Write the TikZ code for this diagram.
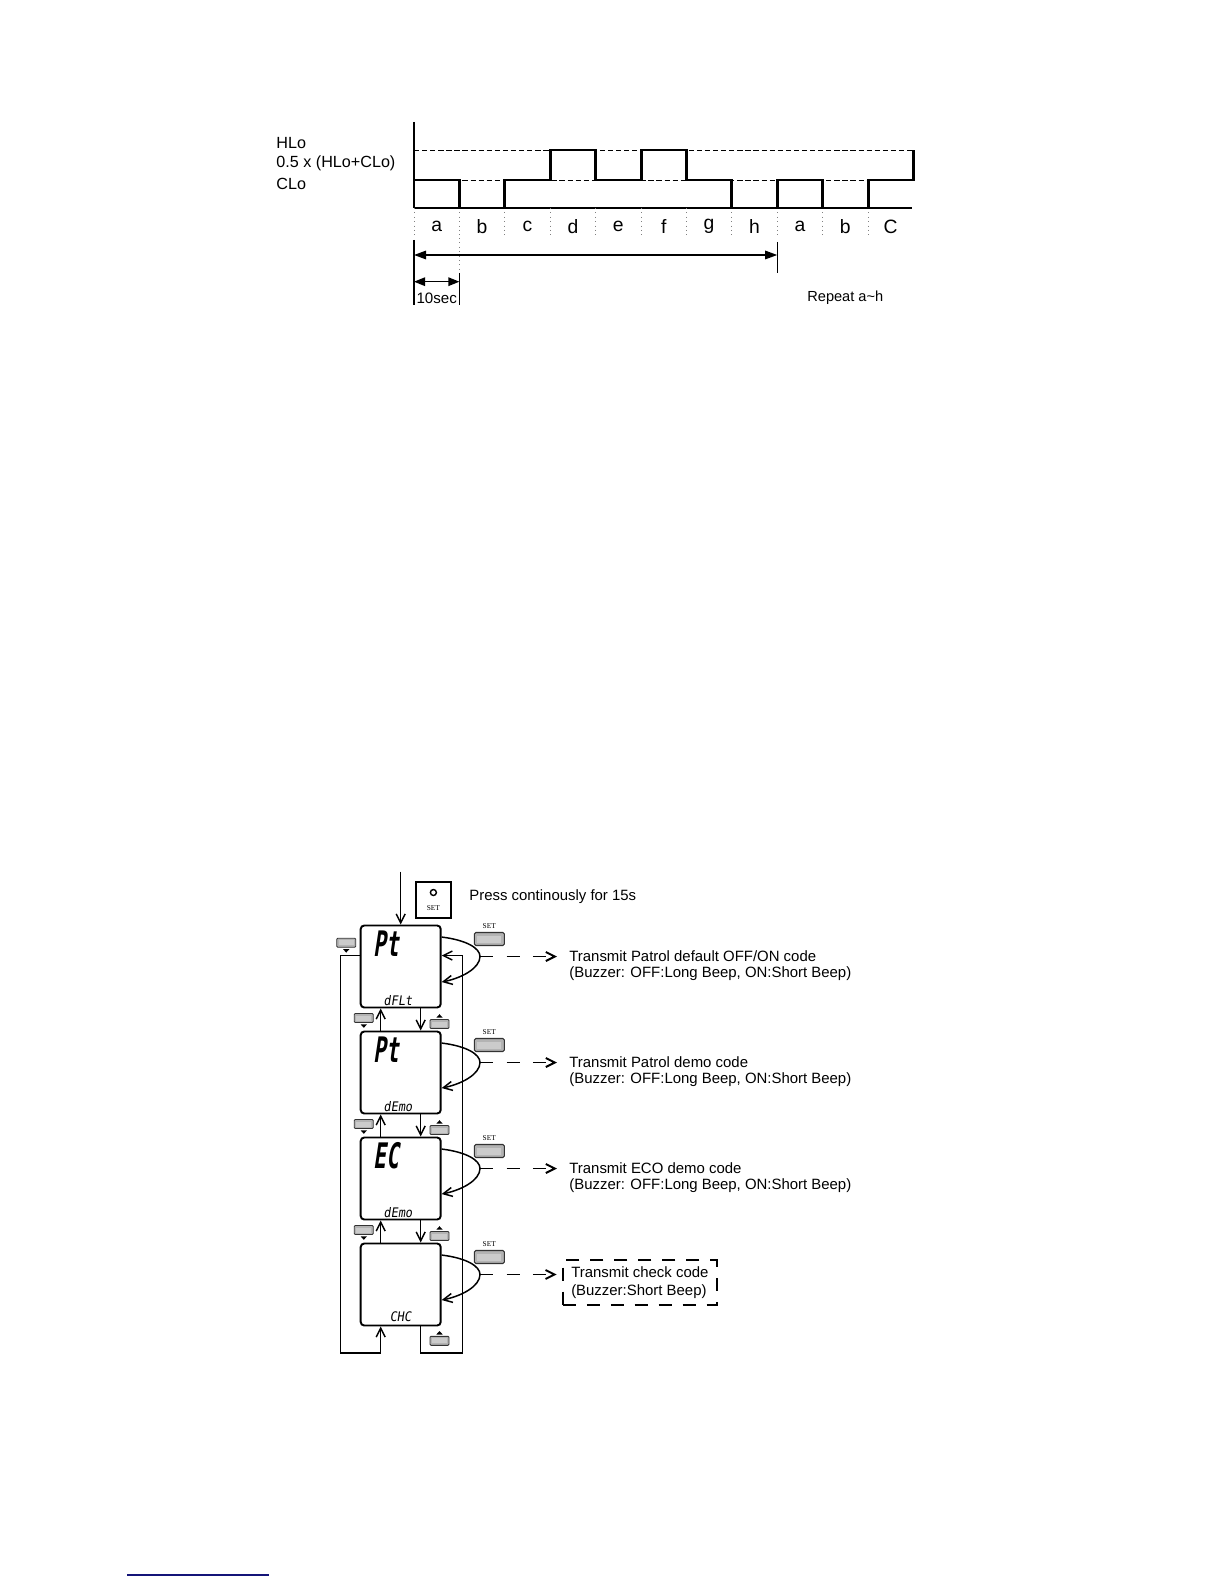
\documentclass[tikz,border=0pt]{standalone}
\usepackage{fontspec}
\setmainfont{Liberation Sans}
\newfontfamily\setfont{Liberation Serif}
\newfontfamily\lcdbig{DejaVu Sans Mono}[FakeSlant=0.15,FakeStretch=0.6]
\newfontfamily\lcdsmall{DejaVu Sans Mono}[FakeSlant=0.15,FakeStretch=0.9]
\usetikzlibrary{arrows.meta,positioning}
\definecolor{linknavy}{RGB}{20,20,120}
\definecolor{keygray}{RGB}{160,160,160}

\tikzset{
  lcdbox/.style={draw, line width=1.1pt, rounded corners=0.07cm,
    minimum width=1.6cm, minimum height=1.64cm, inner sep=0pt},
  conn/.style={line width=0.85pt},
  barb/.style={-{Straight Barb[length=1.8mm,width=1.8mm]}},
  dashline/.style={line width=1.1pt, dash pattern=on 0.26cm off 0.27cm,
    -{Straight Barb[length=1.8mm,width=1.8mm]}},
  txt/.style={font=\fontsize{8.5}{10.4}\selectfont, inner sep=0pt},
  lbl/.style={font=\fontsize{11}{11}\selectfont, inner sep=0pt},
  setlbl/.style={font=\setfont\fontsize{4.2}{4.2}\selectfont, inner sep=0pt},
  bigdigit/.style={font=\lcdbig\bfseries\fontsize{20}{20}\selectfont, inner sep=0pt},
  smalldigit/.style={font=\lcdsmall\fontsize{7.5}{7.5}\selectfont, inner sep=0pt},
  % small keys drawn beside the display
  setkey/.pic={
    \node[setlbl] at (0,-13.3) {SET};
    \draw[black!80, fill=keygray!80, rounded corners=0.03cm, line width=0.6pt]
      (-15,-6.5) rectangle (15,6.5);
    \fill[keygray!55] (-12,-3.5) rectangle (12,3.5);
  },
  downkey/.pic={
    \draw[black!80, fill=keygray!80, rounded corners=0.02cm, line width=0.5pt]
      (-9.5,-4.5) rectangle (9.5,4.5);
    \fill[keygray!55] (-7.5,-2.5) rectangle (7.5,2.5);
    \fill (-3.2,6.3) -- (3.2,6.3) -- (0,9.8) -- cycle;
  },
  upkey/.pic={
    \draw[black!80, fill=keygray!80, rounded corners=0.02cm, line width=0.5pt]
      (-9.5,-4.5) rectangle (9.5,4.5);
    \fill[keygray!55] (-7.5,-2.5) rectangle (7.5,2.5);
    \fill (-3.2,-6.3) -- (3.2,-6.3) -- (0,-9.8) -- cycle;
  }
}

\begin{document}
\begin{tikzpicture}[x=0.02cm, y=-0.02cm]
\useasboundingbox (0,0) rectangle (1224,1584);

% level chart
\node[font=\fontsize{9.2}{9.2}\selectfont, anchor=west, inner sep=0pt] (hlo) at (276,143) {HLo};
\node[font=\fontsize{9.2}{9.2}\selectfont, anchor=west, inner sep=0pt] (mid) at (276,163) {0.5 x (HLo+CLo)};
\node[font=\fontsize{9.2}{9.2}\selectfont, anchor=west, inner sep=0pt] (clo) at (276,184) {CLo};
\draw[line width=0.9pt] (414,122) -- (414,208);
\draw[line width=0.6pt] (414,208) -- (912,208);
\draw[line width=0.5pt, dash pattern=on 3pt off 1.6pt] (414,150) -- (913.4,150);
\draw[line width=0.5pt, dash pattern=on 3pt off 1.6pt] (414,180) -- (913.4,180);
\foreach \i in {0,...,10}
  \draw[gray, line width=0.5pt, dotted] (414+45.4*\i,208) -- (414+45.4*\i,238);
\draw[line width=1.7pt] (414,180) -| (459.4,208) -| (504.8,180) -| (550.2,150)
  -| (595.6,180) -| (641,150) -| (686.4,180) -| (731.8,208) -| (777.2,180)
  -| (822.6,208) -| (868,180) -| (913.4,150);
\foreach \lab [count=\i from 0] in {a,b,c,d,e,f,g,h,a,b,C}
  \node[lbl] (w\i) at (414+45.4*\i+22.7,226.7) {\lab};

\coordinate (rs) at (414,255);
\coordinate (re) at (777.2,255);
\draw[line width=0.8pt] (414,240) -- (414,305);
\draw[line width=0.8pt] (777.2,242) -- (777.2,273);
\draw[gray, line width=0.5pt, dotted] (459.4,238) -- (459.4,273);
\draw[line width=0.8pt] (459.4,273) -- (459.4,305);
\draw[line width=0.8pt, {Triangle[length=2.4mm,width=1.7mm]}-{Triangle[length=2.4mm,width=1.7mm]}] (rs) -- (re);
\coordinate (ts) at (414,281.7);
\coordinate (te) at (459.4,281.7);
\draw[line width=0.8pt, {Triangle[length=2.2mm,width=1.7mm]}-{Triangle[length=2.2mm,width=1.7mm]}] (ts) -- (te);
\node[font=\fontsize{8.6}{8.6}\selectfont, inner sep=0pt] (tensec) at (436.7,298) {10sec};
\node[font=\fontsize{8.3}{8.3}\selectfont, inner sep=0pt, anchor=west] (rep) at (807,298) {Repeat a\textasciitilde h};

% setting menu
\node[draw, line width=1.3pt, minimum width=0.7cm, minimum height=0.72cm, inner sep=0pt] (setbig) at (433.4,900) {};
\draw[line width=0.8pt] ([yshift=0.15cm]setbig.center) circle (0.06cm);
\node[setlbl] at ([yshift=-0.16cm]setbig.center) {SET};
\node[txt, anchor=west] (press) at (469,897) {Press continously for 15s};

\node[lcdbox] (b1) at (400.7,966.5) {};
\node[lcdbox] (b2) at (400.7,1072.5) {};
\node[lcdbox] (b3) at (400.7,1178.5) {};
\node[lcdbox] (b4) at (400.7,1284.5) {};

\node[bigdigit] (d1) at (386,943.2) {Pt};
\node[bigdigit] (d2) at (386,1049.2) {Pt};
\node[bigdigit] (d3) at (386,1155.2) {EC};
\node[smalldigit] (s1) at (398,1000.5) {dFLt};
\node[smalldigit] (s2) at (398,1106.5) {dEmo};
\node[smalldigit] (s3) at (398,1212.5) {dEmo};
\node[smalldigit] (s4) at (400.5,1316.5) {CHC};

\coordinate (start) at (400.7,871.7);
\draw[conn,barb] (start) -- (b1.north);

\foreach \a/\b in {b1/b2,b2/b3,b3/b4} {
  \draw[conn,barb] ([xshift=-0.4cm]\b.north) -- ([xshift=-0.4cm]\a.south);
  \draw[conn,barb] ([xshift=0.4cm]\a.south) -- ([xshift=0.4cm]\b.north);
}

\coordinate (lloop) at (340.7,1353);
\coordinate (rloop) at (462.7,1353);
\draw[conn,barb] ([yshift=-0.62cm]b1.north west) -| (lloop) -| ([xshift=-0.4cm]b4.south);
\draw[conn,barb] ([xshift=0.4cm]b4.south) |- (rloop) |- ([yshift=-0.62cm]b1.north east);

\pic at (346.2,942.8) {downkey};
\foreach \n in {0,1,2} {
  \pic at (363.8,1018+106*\n) {downkey};
  \pic at (439.5,1024+106*\n) {upkey};
}
\pic at (439.5,1340.8) {upkey};

\foreach \n in {1,...,4} {
  \pic at (489.3,939+106*\n-106) {setkey};
  \coordinate (k\n) at (480,956.5+106*\n-106);
  \draw[conn,barb] ([yshift=-0.25cm]b\n.north east)
    .. controls (466,940+106*\n-106) and (480,948+106*\n-106) .. (k\n)
    .. controls (480,968+106*\n-106) and (462,978+106*\n-106) .. ([yshift=-1.15cm]b\n.north east);
}

\node[txt, anchor=west] (t1) at (569,956.5) {Transmit Patrol default OFF/ON code};
\node[txt, anchor=west] (u1) at (569,974) {(Buzzer: OFF:Long Beep, ON:Short Beep)};
\node[txt, anchor=west] (t2) at (569,1062.5) {Transmit Patrol demo code};
\node[txt, anchor=west] (u2) at (569,1080) {(Buzzer: OFF:Long Beep, ON:Short Beep)};
\node[txt, anchor=west] (t3) at (569,1168.5) {Transmit ECO demo code};
\node[txt, anchor=west] (u3) at (569,1186) {(Buzzer: OFF:Long Beep, ON:Short Beep)};
\node[txt, anchor=west, align=left, draw, line width=1.2pt,
  dash pattern=on 0.26cm off 0.22cm, inner xsep=0.17cm, inner ysep=0.12cm]
  (t4) at (561.7,1282.5) {Transmit check code\\(Buzzer:Short Beep)};

\foreach \n in {1,2,3}
  \draw[dashline, shorten >=0.24cm] (k\n) -- (k\n -| t\n.west);
\draw[dashline, shorten >=0.1cm] (k4) -- (k4 -| t4.west);

\draw[linknavy, line width=0.8pt] (127,1575) -- (269,1575);
\end{tikzpicture}
\end{document}
